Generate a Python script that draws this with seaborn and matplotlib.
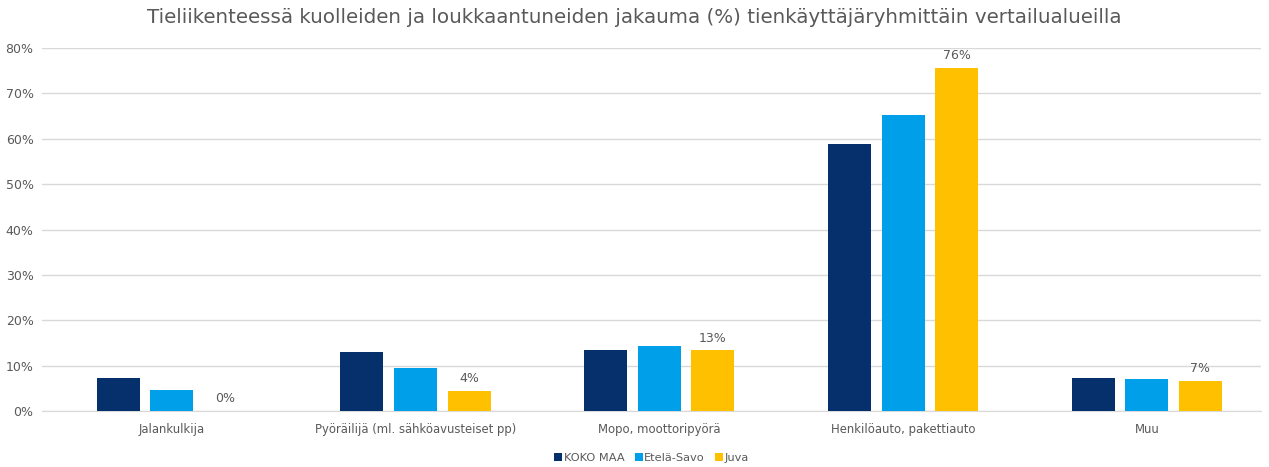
import numpy as np
import pandas as pd
import matplotlib
matplotlib.use("Agg")
import matplotlib.pyplot as plt
import seaborn as sns
from matplotlib.ticker import PercentFormatter

categories = ["Jalankulkija", "Pyöräilijä (ml. sähköavusteiset pp)", "Mopo, moottoripyörä",
              "Henkilöauto, pakettiauto", "Muu"]
series = ["KOKO MAA", "Etelä-Savo", "Juva"]
koko_maa = [0.073, 0.130, 0.134, 0.588, 0.073]
etela_savo = [0.046, 0.095, 0.143, 0.652, 0.070]
juva = [0.0, 0.044, 0.134, 0.757, 0.066]
colors = ["#06306B", "#009FEA", "#FFC000"]

rows = []
for name, vals in zip(series, [koko_maa, etela_savo, juva]):
    for c, v in zip(categories, vals):
        rows.append({"cat": c, "series": name, "val": v})
df = pd.DataFrame(rows)

sns.set_style("white")
plt.rcParams['font.family'] = ['DejaVu Sans']
grey = "#595959"

fig = plt.figure(figsize=(12.69, 4.67), dpi=100)
ax = fig.add_axes([0.033, 0.12, 0.961, 0.777])
sns.barplot(data=df, x="cat", y="val", hue="series", palette=colors, width=0.66, gap=0.2,
            saturation=1, linewidth=0, ax=ax, legend=True, zorder=3)

ax.set_ylim(0, 0.8)
ax.set_xlim(-0.533, 4.47)
ax.set_yticks(np.arange(0, 0.81, 0.1))
ax.yaxis.set_major_formatter(PercentFormatter(1.0, decimals=0))
ax.grid(axis="y", color="#D9D9D9", linewidth=1, zorder=0)
for s in ["top", "right", "left"]:
    ax.spines[s].set_visible(False)
ax.spines["bottom"].set_color("#D9D9D9")
ax.tick_params(axis="y", length=0, labelsize=9, colors=grey, pad=6)
ax.tick_params(axis="x", length=0, labelsize=8.4, colors=grey, pad=9)
ax.set_xlabel("")
ax.set_ylabel("")

# labels for Juva only
cont = ax.containers[2]
ax.bar_label(cont, labels=[f"{v*100:.0f}%" for v in juva], padding=4, fontsize=9, color=grey)

ax.legend(loc="upper center", bbox_to_anchor=(0.5, -0.088), ncol=3, frameon=False,
          fontsize=8.2, handlelength=0.7, handleheight=0.7, handletextpad=0.15, columnspacing=0.9,
          labelcolor=grey)

fig.suptitle("Tieliikenteessä kuolleiden ja loukkaantuneiden jakauma (%) tienkäyttäjäryhmittäin vertailualueilla",
             y=0.982, fontsize=14.3, color=grey)

fig.savefig("out.png", dpi=100)
